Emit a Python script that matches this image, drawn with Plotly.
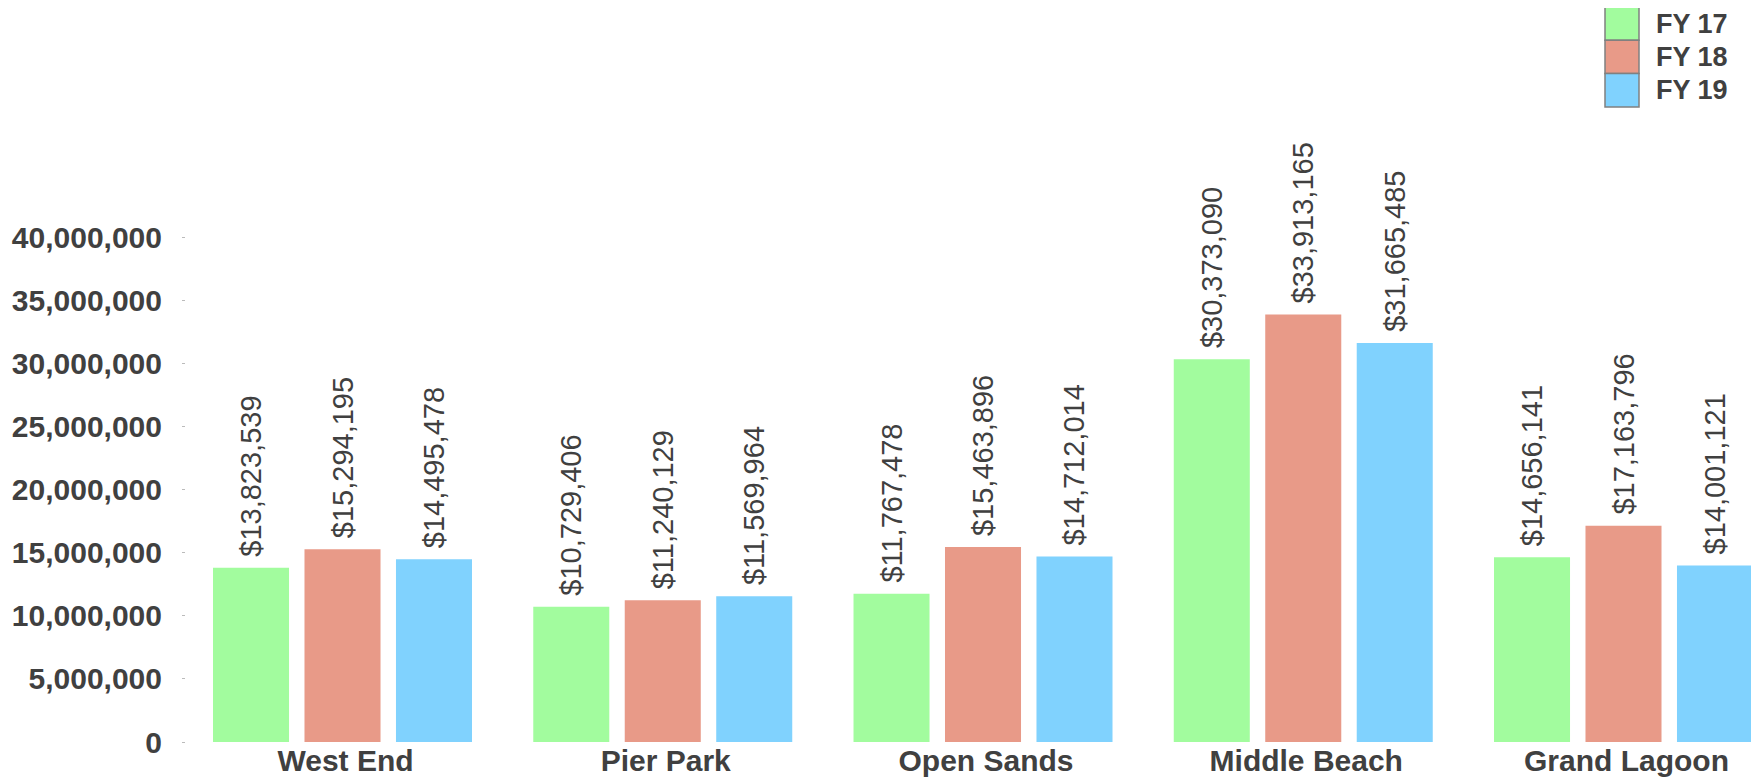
import plotly.graph_objects as go

categories = ["West End", "Pier Park", "Open Sands", "Middle Beach", "Grand Lagoon"]
series_names = ["FY 17", "FY 18", "FY 19"]
fy17 = [13823539, 10729406, 11767478, 30373090, 14656141]
fy18 = [15294195, 11240129, 15463896, 33913165, 17163796]
fy19 = [14495478, 11569964, 14712014, 31665485, 14001121]
tick_vals = [0, 5000000, 10000000, 15000000, 20000000, 25000000, 30000000, 35000000, 40000000]
tick_text = ["0", "5,000,000", "10,000,000", "15,000,000", "20,000,000", "25,000,000",
             "30,000,000", "35,000,000", "40,000,000"]

colors = ["#A2FC9E", "#E89A88", "#80D2FE"]
series = [fy17, fy18, fy19]

# page body has an 8px margin, so the figure is sized to fit the 1759x778 viewport
W, H = 1751, 770
ML, MR, MT, MB = 178, 0, 129, 36
plot_h = H - MT - MB
plot_w = W - ML - MR

fig = go.Figure()
for name, vals, c in zip(series_names, series, colors):
    fig.add_trace(go.Bar(
        x=categories, y=vals, name=name,
        marker=dict(color=c, line=dict(width=0)),
        texttemplate="\u00a0$%{y:,}", textposition="outside", textangle=-90,
        constraintext="none",
        textfont=dict(family="Liberation Sans", size=29, color="#404040"),
        cliponaxis=False, showlegend=False,
    ))

# custom legend (large square swatches)
def py2paper(py):
    return (H - MB - py) / plot_h

def px2paper(px):
    return (px - ML) / plot_w

sw_top = -1
sw_h = 33.3
for i, (name, c) in enumerate(zip(series_names, colors)):
    y0 = sw_top + i * sw_h
    fig.add_shape(type="rect", xref="paper", yref="paper",
                  x0=px2paper(1597), x1=px2paper(1631),
                  y0=py2paper(y0 + sw_h), y1=py2paper(y0),
                  fillcolor=c, line=dict(color="#808080", width=1.5))
    fig.add_annotation(xref="paper", yref="paper", x=px2paper(1646), y=py2paper(y0 + sw_h / 2),
                       text=name, showarrow=False, xanchor="left", yanchor="middle",
                       font=dict(family="Liberation Sans", size=27, color="#404040", weight="bold"))

fig.update_layout(
    width=W, height=H,
    margin=dict(l=ML, r=MR, t=MT, b=MB, autoexpand=False),
    paper_bgcolor="white", plot_bgcolor="white",
    barmode="group", bargap=0.143, bargroupgap=0.169,
    showlegend=False,
)
fig.update_xaxes(range=[-0.4887, 4.4231], showgrid=False, showline=False, zeroline=False,
                 ticks="", ticklabelstandoff=-2, ticklabelshift=3,
                 tickfont=dict(family="Liberation Sans", size=30, color="#404040", weight="bold"))
fig.update_yaxes(range=[0, 48000000], showgrid=False, showline=False, zeroline=False,
                 tickmode="array", tickvals=tick_vals, ticktext=tick_text,
                 ticks="outside", ticklen=3, tickcolor="#bbbbbb", tickwidth=1,
                 ticklabelstandoff=14,
                 tickfont=dict(family="Liberation Sans", size=30, color="#404040", weight="bold"))

fig.write_html("out.html")
